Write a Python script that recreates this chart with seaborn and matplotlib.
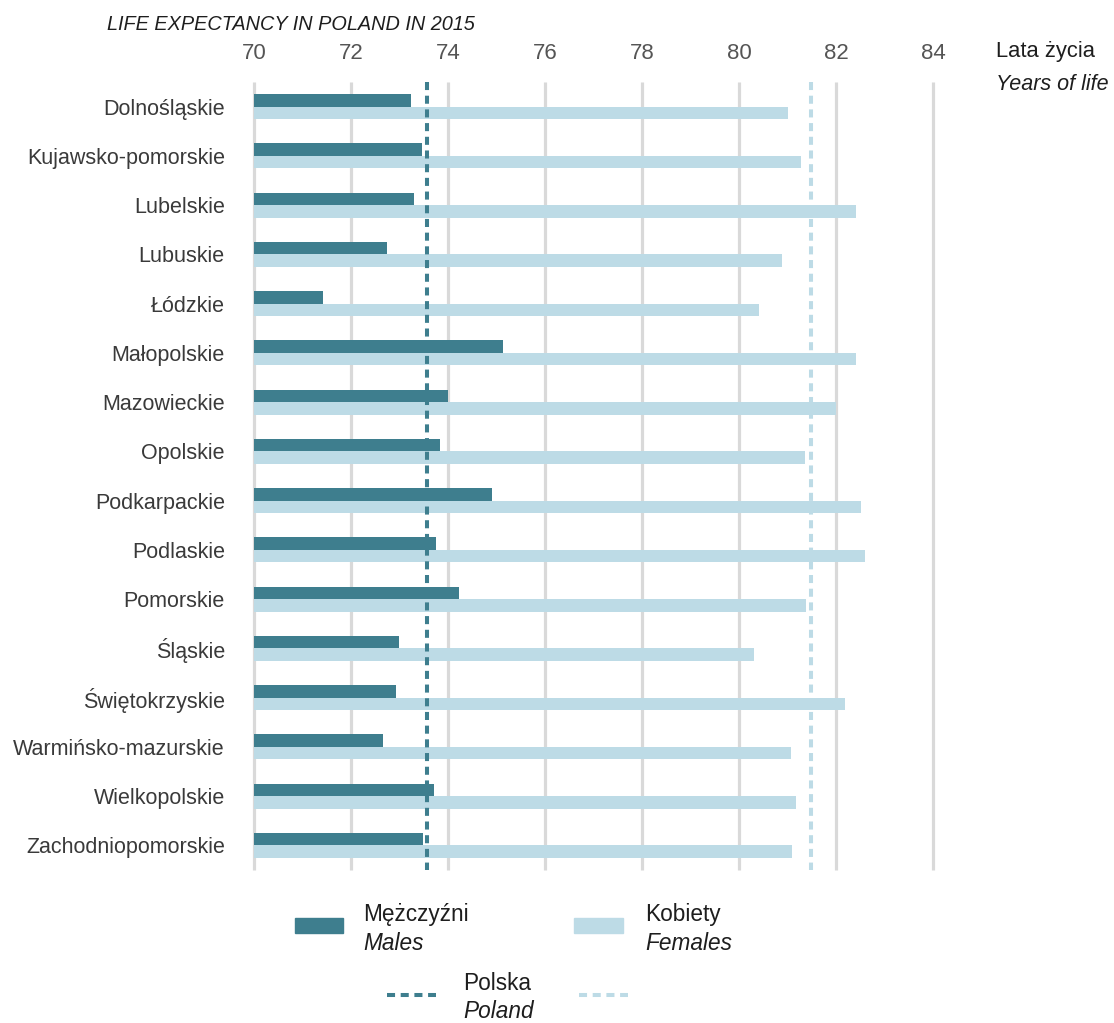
import pandas as pd
import matplotlib.pyplot as plt
import seaborn as sns
from matplotlib import font_manager
from matplotlib.patches import Rectangle
from matplotlib.lines import Line2D

sns.set_style("white")

# font: narrow Arial look if available, else plain Liberation Sans
names = {f.name for f in font_manager.fontManager.ttflist}
NARROW = "Liberation Sans Narrow" in names
FONT = "Liberation Sans Narrow" if NARROW else "Liberation Sans"
plt.rcParams["font.family"] = [FONT, "DejaVu Sans"]
K = 1.15 if NARROW else 1.0   # narrow font can be a bit bigger

# -----------------------------
# data
# -----------------------------
regions = [
    "Dolnośląskie", "Kujawsko-pomorskie", "Lubelskie", "Lubuskie", "Łódzkie",
    "Małopolskie", "Mazowieckie", "Opolskie", "Podkarpackie", "Podlaskie",
    "Pomorskie", "Śląskie", "Świętokrzyskie", "Warmińsko-mazurskie",
    "Wielkopolskie", "Zachodniopomorskie",
]
males = [73.23, 73.47, 73.30, 72.75, 71.43, 75.13, 74.01, 73.83, 74.91, 73.76,
         74.23, 72.98, 72.93, 72.65, 73.72, 73.48]
females = [81.00, 81.28, 82.41, 80.89, 80.42, 82.41, 82.00, 81.36, 82.51, 82.59,
           81.39, 80.30, 82.19, 81.07, 81.18, 81.10]
poland_males = 73.56
poland_females = 81.48
x_ticks = [70, 72, 74, 76, 78, 80, 82, 84]

C_MALE = "#3e7e8e"
C_FEMALE = "#bddbe6"
C_GRID = "#d9d9d9"
C_TEXT = "#3a3a3a"
C_DARK = "#1e1e1e"
DASH = (0, (2.0, 1.4))

df = pd.DataFrame({
    "Region": regions * 2,
    "Sex": ["M"] * len(regions) + ["K"] * len(regions),
    "Years": males + females,
})

W, H = 1114, 1023
fig = plt.figure(figsize=(W / 100, H / 100), dpi=100)
ax = fig.add_axes([254 / W, 1 - 870 / H, 727.5 / W, 788 / H])

sns.barplot(data=df, y="Region", x="Years", hue="Sex", order=regions,
            hue_order=["M", "K"], palette=[C_MALE, C_FEMALE], orient="h",
            width=0.51, gap=0, saturation=1, linewidth=0, legend=False,
            errorbar=None, ax=ax, zorder=2)

ax.set_xlim(70, 85)
ax.set_ylim(15.5, -0.5)

# grid lines
ax.vlines(x_ticks, -0.5, 15.5, colors=C_GRID, linewidth=2.3, zorder=0,
          clip_on=False)

# Poland averages
ax.vlines(poland_males, -0.5, 15.5, colors=C_MALE, linewidth=2.9,
          linestyles=DASH, zorder=3, clip_on=False)
ax.vlines(poland_females, -0.5, 15.5, colors=C_FEMALE, linewidth=2.9,
          linestyles=DASH, zorder=3, clip_on=False)

for s in ax.spines.values():
    s.set_visible(False)
ax.xaxis.tick_top()
ax.set_xticks(x_ticks)
ax.set_xticklabels([str(t) for t in x_ticks])
ax.tick_params(axis="x", length=0, pad=13, labelsize=16 * K, labelcolor="#555555")
ax.tick_params(axis="y", length=0, pad=21, labelsize=15.5 * K, labelcolor=C_TEXT)
ax.set_xlabel("")
ax.set_ylabel("")

# titles / axis unit
fig.text(107 / W, 1 - 24 / H, "LIFE EXPECTANCY IN POLAND IN 2015",
         fontsize=14.3 * K, style="italic", color=C_DARK, va="center", ha="left")
fig.text(996 / W, 1 - 52 / H, "Lata życia", fontsize=15.8 * K, color=C_DARK,
         va="center", ha="left")
fig.text(996 / W, 1 - 84 / H, "Years of life", fontsize=15.5 * K, style="italic",
         color=C_DARK, va="center", ha="left")

# -----------------------------
# legend
# -----------------------------
LFS = 16.3 * K
fig.patches.append(Rectangle((295 / W, 1 - 933 / H), 48 / W, 15 / H,
                             transform=fig.transFigure, color=C_MALE))
fig.patches.append(Rectangle((574 / W, 1 - 933 / H), 49 / W, 15 / H,
                             transform=fig.transFigure, color=C_FEMALE))
fig.text(363 / W, 1 - 914 / H, "Mężczyźni", fontsize=LFS, color=C_DARK, va="center")
fig.text(363 / W, 1 - 943 / H, "Males", fontsize=LFS, style="italic", color=C_DARK, va="center")
fig.text(645 / W, 1 - 914 / H, "Kobiety", fontsize=LFS, color=C_DARK, va="center")
fig.text(645 / W, 1 - 943 / H, "Females", fontsize=LFS, style="italic", color=C_DARK, va="center")

fig.lines.append(Line2D([387 / W, 436 / W], [1 - 995 / H] * 2, transform=fig.transFigure,
                        color=C_MALE, linewidth=2.9, linestyle=DASH))
fig.lines.append(Line2D([579 / W, 628 / W], [1 - 995 / H] * 2, transform=fig.transFigure,
                        color=C_FEMALE, linewidth=2.9, linestyle=DASH))
fig.text(463 / W, 1 - 984 / H, "Polska", fontsize=LFS, color=C_DARK, va="center")
fig.text(463 / W, 1 - 1012 / H, "Poland", fontsize=LFS, style="italic", color=C_DARK, va="center")

fig.savefig("out.png", dpi=100, facecolor="white")
